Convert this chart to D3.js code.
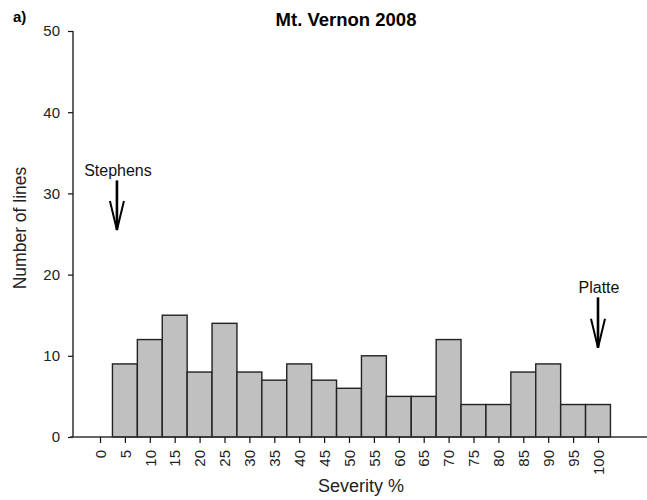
<!DOCTYPE html>
<html>
<head>
<meta charset="utf-8">
<script src="https://cdn.jsdelivr.net/npm/d3@7"></script>
<style>
  body { margin: 0; background: #fff; }
  svg { display: block; font-family: "Liberation Sans", Arial, sans-serif; }
</style>
</head>
<body>
<svg id="chart" width="647" height="500"></svg>
<script>
// Severity classes (%) and number of lines in each class
const severity = [0, 5, 10, 15, 20, 25, 30, 35, 40, 45, 50, 55, 60, 65, 70, 75, 80, 85, 90, 95, 100];
const lineCounts = [0, 9, 12, 15, 8, 14, 8, 7, 9, 7, 6, 10, 5, 5, 12, 4, 4, 8, 9, 4, 4];
const yTicks = [0, 10, 20, 30, 40, 50];

// Check cultivars marked with arrows: label, severity, arrow tip and arrow top (in counts)
const markers = [
  { name: "Stephens", sev: 3.4, tip: 25.5, top: 31.6 },
  { name: "Platte", sev: 100, tip: 11, top: 17.2 }
];

const svg = d3.select("#chart");

const x = d3.scaleLinear().domain([0, 100]).range([100, 598]);
const y = d3.scaleLinear().domain([0, 50]).range([437, 31]);
const halfW = (x(5) - x(0)) / 2;

// bars
svg.append("g").selectAll("rect")
  .data(severity.map((s, i) => ({ s, n: lineCounts[i] })).filter(d => d.n > 0))
  .join("rect")
  .attr("x", d => x(d.s) - halfW)
  .attr("y", d => y(d.n))
  .attr("width", halfW * 2)
  .attr("height", d => y(0) - y(d.n))
  .attr("fill", "#c0c0c0")
  .attr("stroke", "#222")
  .attr("stroke-width", 1.4);

// y axis
const yAxis = svg.append("g")
  .attr("transform", "translate(73,0)")
  .call(d3.axisLeft(y).tickValues(yTicks).tickSize(5).tickPadding(8));
yAxis.select(".domain").attr("stroke", "#111").attr("stroke-width", 1.3).attr("d", `M0,${y(50)}V${y(0)}`);
yAxis.selectAll(".tick line").attr("stroke", "#111").attr("stroke-width", 1.2);
yAxis.selectAll("text").attr("font-size", 15).attr("fill", "#222");

// x axis
const xAxis = svg.append("g")
  .attr("transform", `translate(0,${y(0)})`)
  .call(d3.axisBottom(x).tickValues(severity).tickFormat(d3.format("d")).tickSize(6));
xAxis.select(".domain").attr("stroke", "#333").attr("stroke-width", 1.4).attr("d", "M70,0H647");
xAxis.selectAll(".tick line").attr("stroke", "#111").attr("stroke-width", 1.2);
xAxis.selectAll("text")
  .attr("font-size", 15).attr("fill", "#222")
  .attr("text-anchor", "end")
  .attr("dy", "0.35em")
  .attr("transform", "translate(0,13) rotate(-90)")
  .attr("x", 0).attr("y", 0);

// arrows with labels
markers.forEach(m => {
  const g = svg.append("g");
  const cx = x(m.sev), tipY = y(m.tip), topY = y(m.top);
  g.append("text").attr("x", cx + 1).attr("y", topY - 4)
    .attr("text-anchor", "middle").attr("font-size", 16).attr("fill", "#111").text(m.name);
  g.append("line").attr("x1", cx).attr("x2", cx).attr("y1", topY).attr("y2", tipY)
    .attr("stroke", "#000").attr("stroke-width", 2.6);
  g.append("path")
    .attr("d", `M${cx - 7},${tipY - 29}L${cx},${tipY}L${cx + 7},${tipY - 29}`)
    .attr("fill", "none").attr("stroke", "#000").attr("stroke-width", 2);
});

// title and labels
svg.append("text").attr("x", 346).attr("y", 26).attr("text-anchor", "middle")
  .attr("font-size", 18.5).attr("font-weight", "bold").attr("fill", "#000").text("Mt. Vernon 2008");
svg.append("text").attr("x", 13).attr("y", 22)
  .attr("font-size", 15).attr("font-weight", "bold").attr("fill", "#000").text("a)");
svg.append("text").attr("transform", "translate(26,228) rotate(-90)").attr("text-anchor", "middle")
  .attr("font-size", 17.5).attr("fill", "#222").text("Number of lines");
svg.append("text").attr("x", 361).attr("y", 492).attr("text-anchor", "middle")
  .attr("font-size", 18).attr("fill", "#222").text("Severity %");
</script>
</body>
</html>
